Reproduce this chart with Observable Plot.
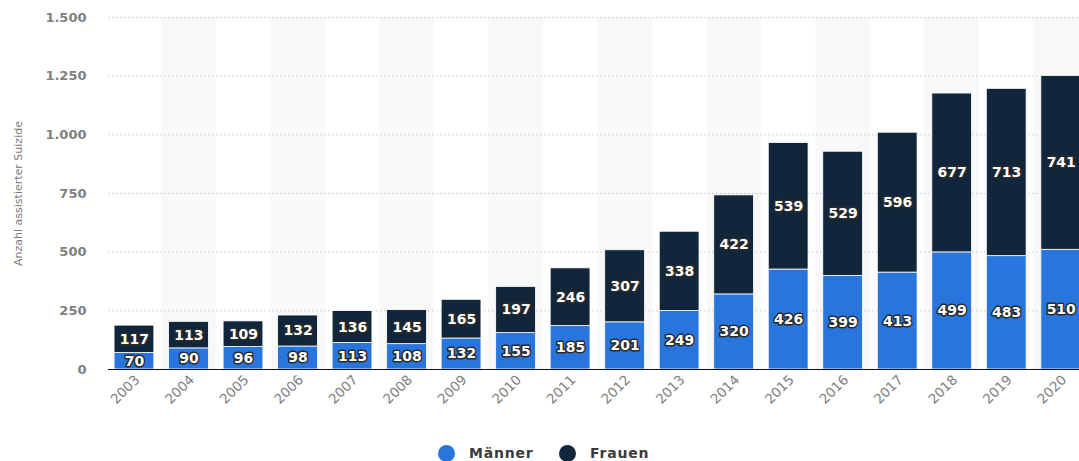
<!DOCTYPE html>
<html>
<head>
<meta charset="utf-8">
<script src="https://cdn.jsdelivr.net/npm/d3@7"></script>
<script src="https://cdn.jsdelivr.net/npm/@observablehq/plot@0.6"></script>
<style>
  html, body { margin: 0; padding: 0; background: #fff; overflow: hidden; }
  #legend { position: relative; height: 20px; margin-top: 7px;
    font-family: "DejaVu Sans", sans-serif; font-size: 14px; font-weight: bold; letter-spacing: 0.8px; color: #3a3a3a; }
  #legend span.item { position: absolute; top: 0; display: flex; align-items: center; gap: 14px; height: 20px; }
  #legend span.dot { width: 17px; height: 17px; border-radius: 50%; display: inline-block; }
</style>
</head>
<body>
<div id="chart"></div>
<div id="legend"></div>
<script>
const years = ["2003","2004","2005","2006","2007","2008","2009","2010","2011","2012","2013","2014","2015","2016","2017","2018","2019","2020"];
const maenner = [70,90,96,98,113,108,132,155,185,201,249,320,426,399,413,499,483,510];
const frauen = [117,113,109,132,136,145,165,197,246,307,338,422,539,529,596,677,713,741];
const seriesNames = ["Männer", "Frauen"];
const seriesColors = ["#2876dd", "#12263b"];
const yTicks = [0, 250, 500, 750, 1000, 1250, 1500];

const data = [];
years.forEach((y, i) => {
  data.push({year: y, series: "Männer", value: maenner[i]});
  data.push({year: y, series: "Frauen", value: frauen[i]});
});
const stripeYears = years.filter((y, i) => i % 2 === 1);

const de = d3.formatLocale({decimal: ",", thousands: ".", grouping: [3], currency: ["", "€"]});
const fmt = de.format(",");

const W = 1079, H = 436;
const xRange = [106.7, 1088];
const step = (xRange[1] - xRange[0]) / years.length;
const pad = 0.27;

const chart = Plot.plot({
  width: W,
  height: H,
  marginTop: 17,
  marginBottom: H - 369,
  marginLeft: 108,
  marginRight: 0,
  style: {fontFamily: "DejaVu Sans, sans-serif", background: "#fff", overflow: "hidden"},
  x: {domain: years, range: xRange, round: false, paddingInner: pad, paddingOuter: pad / 2, align: 0.5, label: null},
  y: {domain: [0, 1500], label: null},
  color: {domain: seriesNames, range: seriesColors},
  marks: [
    Plot.barY(stripeYears, {x: d => d, y1: 0, y2: 1500, fill: "#f8f8f8",
      insetLeft: -step * pad / 2, insetRight: -step * pad / 2}),
    Plot.ruleY(yTicks.filter(d => d > 0), {stroke: "#c8c8c8", strokeDasharray: "1.5,2.5", strokeWidth: 1}),
    Plot.axisY({ticks: yTicks, tickFormat: fmt, tickSize: 0, tickPadding: 22,
      fill: "#808080", fontSize: 13, fontWeight: "bold", style: {letterSpacing: "2px"}}),
    Plot.axisX({tickRotate: -45, tickSize: 0, tickPadding: 8, dx: 3, fill: "#808080", fontSize: 13.5,
      style: {letterSpacing: "1px"}}),
    Plot.barY(data, {x: "year", y: "value", fill: "series", stroke: "#ffffff", strokeWidth: 0.8}),
    Plot.ruleY([0], {stroke: "#111", strokeWidth: 1.2}),
    Plot.text(data, Plot.stackY({x: "year", y: "value", z: "series", text: d => String(d.value),
      fill: "#ffffff", stroke: "#2a2a2a", strokeWidth: 3, paintOrder: "stroke",
      fontSize: 14, fontWeight: "bold", style: {letterSpacing: "1.5px"}})),
    Plot.text(["Anzahl assistierter Suizide"], {frameAnchor: "left", dx: -90, rotate: -90, textAnchor: "middle",
      text: d => d, fill: "#7a7a7a", fontSize: 11})
  ]
});
document.getElementById("chart").appendChild(chart);

const legend = document.getElementById("legend");
const legendX = [438, 559];
seriesNames.forEach((name, i) => {
  const item = document.createElement("span");
  item.className = "item";
  item.style.left = legendX[i] + "px";
  const dot = document.createElement("span");
  dot.className = "dot";
  dot.style.background = seriesColors[i];
  const label = document.createElement("span");
  label.textContent = name;
  item.appendChild(dot);
  item.appendChild(label);
  legend.appendChild(item);
});
</script>
</body>
</html>
